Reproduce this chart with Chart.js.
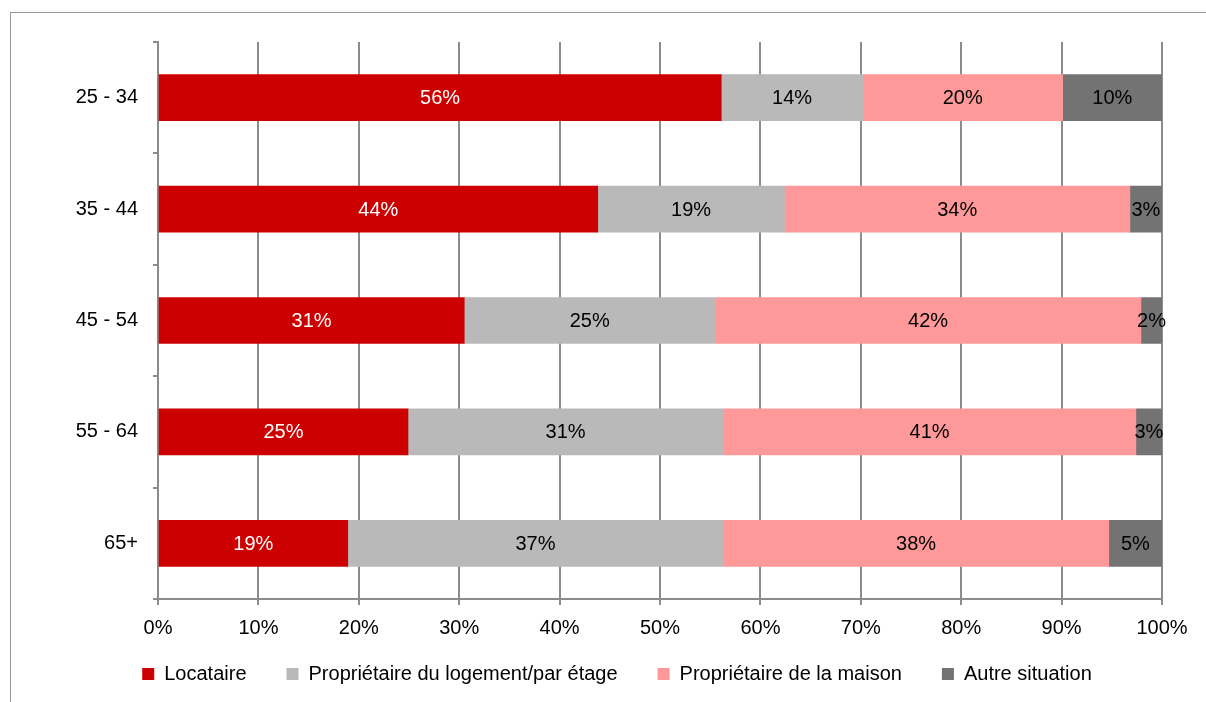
<!DOCTYPE html>
<meta charset="utf-8">
<title>Situation de logement par âge</title>
<style>
  html, body { margin: 0; background: #fff; overflow: hidden; }
  #wrap { width: 1206px; height: 702px; }
</style>
<div id="wrap"><canvas id="chart"></canvas></div>
<script src="https://cdn.jsdelivr.net/npm/chart.js@4"></script>
<script>
  const ages = ["25 - 34", "35 - 44", "45 - 54", "55 - 64", "65+"]
  const locataire = [56.1, 43.8, 30.5, 24.9, 18.9]
  const proprioEtage = [14.1, 18.6, 25.0, 31.4, 37.4]
  const proprioMaison = [19.9, 34.4, 42.4, 41.1, 38.4]
  const autre = [9.9, 3.2, 2.1, 2.6, 5.3]

  const grey = "#8c8c8c"
  const font = { family: "'Liberation Sans', Arial, sans-serif", size: 20 }

  // frame around the whole chart, cut off at right/bottom like the original
  const frame = {
    id: "frame",
    beforeDraw(c) {
      const ctx = c.ctx
      ctx.save()
      ctx.strokeStyle = "#9a9a9a"
      ctx.lineWidth = 1
      ctx.strokeRect(10.5, 12.5, 1400, 900)
      ctx.restore()
    },
    // legend sits a bit right of centre and closer to the axis in the original
    afterLayout(c) {
      c.legend.left += 36
      c.legend.right += 36
      c.legend.top -= 10
      c.legend.bottom -= 10
    },
  }

  // percent labels in the middle of every segment
  const barLabels = {
    id: "barLabels",
    afterDatasetsDraw(c) {
      const ctx = c.ctx
      ctx.save()
      ctx.font = `${font.size}px ${font.family}`
      ctx.textAlign = "center"
      ctx.textBaseline = "middle"
      c.data.datasets.forEach((ds, i) => {
        c.getDatasetMeta(i).data.forEach((bar, j) => {
          const p = bar.getProps(["x", "y", "base"], true)
          ctx.fillStyle = ds.labelColor
          ctx.fillText(Math.round(ds.data[j]) + "%", (p.x + p.base) / 2, p.y + 1)
        })
      })
      ctx.restore()
    },
  }

  const ds = (label, data, color, labelColor) => ({
    label, data, labelColor,
    backgroundColor: color,
    borderWidth: 0,
    barThickness: 46,
  })

  new Chart(document.getElementById("chart"), {
    type: "bar",
    data: {
      labels: ages,
      datasets: [
        ds("Locataire", locataire, "#cc0000", "#ffffff"),
        ds("Propriétaire du logement/par étage", proprioEtage, "#b9b9b9", "#000000"),
        ds("Propriétaire de la maison", proprioMaison, "#ff9999", "#000000"),
        ds("Autre situation", autre, "#737373", "#000000"),
      ],
    },
    plugins: [frame, barLabels],
    options: {
      indexAxis: "y",
      responsive: true,
      maintainAspectRatio: false,
      animation: false,
      layout: { padding: { top: 42, right: 44, bottom: -2, left: 0 } },
      scales: {
        x: {
          stacked: true,
          min: 0,
          max: 100,
          ticks: { stepSize: 10, color: "#000", font, padding: 11, callback: v => v + "%" },
          grid: { color: grey, lineWidth: 2, tickLength: 6 },
          border: { color: grey, width: 2 },
          afterFit: s => { s.height = 35 },
        },
        y: {
          stacked: true,
          ticks: { color: "#000", font, padding: 15 },
          grid: { drawOnChartArea: false, color: grey, lineWidth: 2, tickLength: 5 },
          border: { color: grey, width: 2 },
          afterFit: s => { s.width = 158 },
        },
      },
      plugins: {
        legend: {
          position: "bottom",
          labels: { color: "#000", font, boxWidth: 12, boxHeight: 12, padding: 40 },
        },
        tooltip: { enabled: false },
      },
    },
  })
</script>
